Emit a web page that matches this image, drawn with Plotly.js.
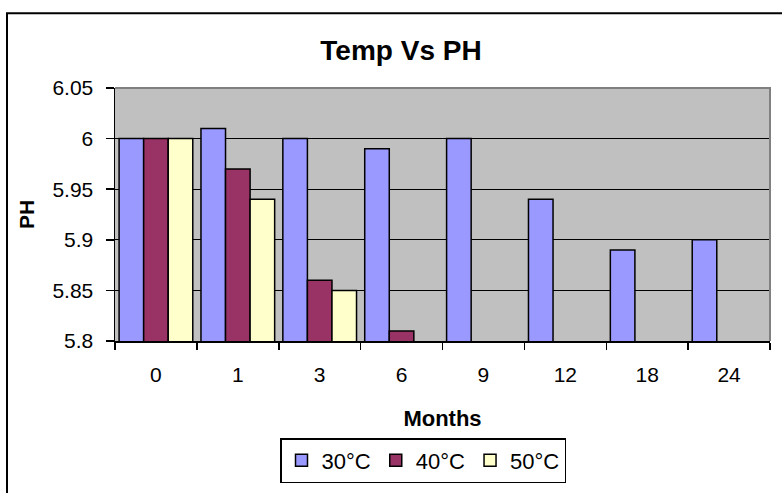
<!DOCTYPE html>
<html>
<head>
<meta charset="utf-8">
<script src="https://cdn.plot.ly/plotly-3.0.1.min.js"></script>
<style>
html,body{margin:0;padding:0;background:#fff;}
#chart{width:782px;height:493px;}
</style>
</head>
<body>
<div id="chart"></div>
<script>
const months = ['0', '1', '3', '6', '9', '12', '18', '24'];
const ph30 = [6.00, 6.01, 6.00, 5.99, 6.00, 5.94, 5.89, 5.90];
const ph40 = [6.00, 5.97, 5.86, 5.81, null, null, null, null];
const ph50 = [6.00, 5.94, 5.85, null, null, null, null, null];
const seriesNames = ['30°C', '40°C', '50°C'];
const yTickVals = [5.8, 5.85, 5.9, 5.95, 6.0, 6.05];
const yTickText = ['5.8', '5.85', '5.9', '5.95', '6', '6.05'];

const colors = ['#9999FF', '#993366', '#FFFFCC'];
const seriesData = [ph30, ph40, ph50];

const traces = seriesData.map((vals, i) => ({
  type: 'bar',
  name: seriesNames[i],
  x: months,
  y: vals,
  marker: {color: colors[i], line: {color: '#000', width: 1.5}},
  hoverinfo: 'x+y+name'
}));

const W = 782, H = 493;
const L = 115, R = 12, T = 88, B = 151;
const pw = W - L - R, ph = H - T - B;
const px = v => (v - L) / pw;
const py = v => (H - B - v) / ph;

const layout = {
  width: W, height: H,
  margin: {l: L, r: R, t: T, b: B, pad: 0},
  paper_bgcolor: '#ffffff',
  plot_bgcolor: '#C0C0C0',
  font: {family: 'Liberation Sans, Arial, sans-serif', color: '#000', size: 21},
  title: {
    text: '<b>Temp Vs PH</b>',
    font: {size: 28, family: 'Liberation Sans, Arial, sans-serif', color: '#000'},
    x: 401 / W, xanchor: 'center',
    y: 1 - 50 / H, yanchor: 'middle'
  },
  barmode: 'group',
  bargap: 0.1,
  bargroupgap: 0,
  showlegend: true,
  legend: {
    orientation: 'h',
    x: px(423), xanchor: 'center',
    y: py(438), yanchor: 'top',
    bordercolor: '#000', borderwidth: 1.5,
    bgcolor: '#fff',
    font: {size: 22},
    traceorder: 'normal'
  },
  xaxis: {
    type: 'category',
    showgrid: false,
    showline: true, linecolor: '#000', linewidth: 1.5,
    ticks: 'outside', tickson: 'boundaries', ticklen: 7, tickwidth: 1.5, tickcolor: '#000',
    tickfont: {size: 21},
    ticklabelstandoff: 14,
    title: {text: '<b>Months</b>', font: {size: 22}, standoff: 26},
    zeroline: false,
    fixedrange: true
  },
  yaxis: {
    range: [5.8, 6.05],
    tickvals: yTickVals,
    ticktext: yTickText,
    showgrid: true, gridcolor: '#000', gridwidth: 1,
    showline: true, linecolor: '#000', linewidth: 1.5,
    ticks: 'outside', ticklen: 8, tickwidth: 1.5, tickcolor: '#000',
    tickfont: {size: 21},
    ticklabelstandoff: 8,
    title: {text: '<b>PH</b>', font: {size: 21}, standoff: 12},
    zeroline: false,
    fixedrange: true
  },
  shapes: [
    {type: 'path', xref: 'paper', yref: 'paper',
     path: 'M ' + px(770) + ' ' + py(342) + ' L ' + px(770) + ' ' + py(88) + ' L ' + px(115) + ' ' + py(88),
     line: {color: '#808080', width: 2}, layer: 'above'},
    {type: 'path', xref: 'paper', yref: 'paper',
     path: 'M ' + px(7) + ' ' + py(500) + ' L ' + px(7) + ' ' + py(13) + ' L ' + px(790) + ' ' + py(13),
     line: {color: '#000', width: 2}}
  ]
};

Plotly.newPlot('chart', traces, layout, {displayModeBar: false, staticPlot: true});
</script>
</body>
</html>
